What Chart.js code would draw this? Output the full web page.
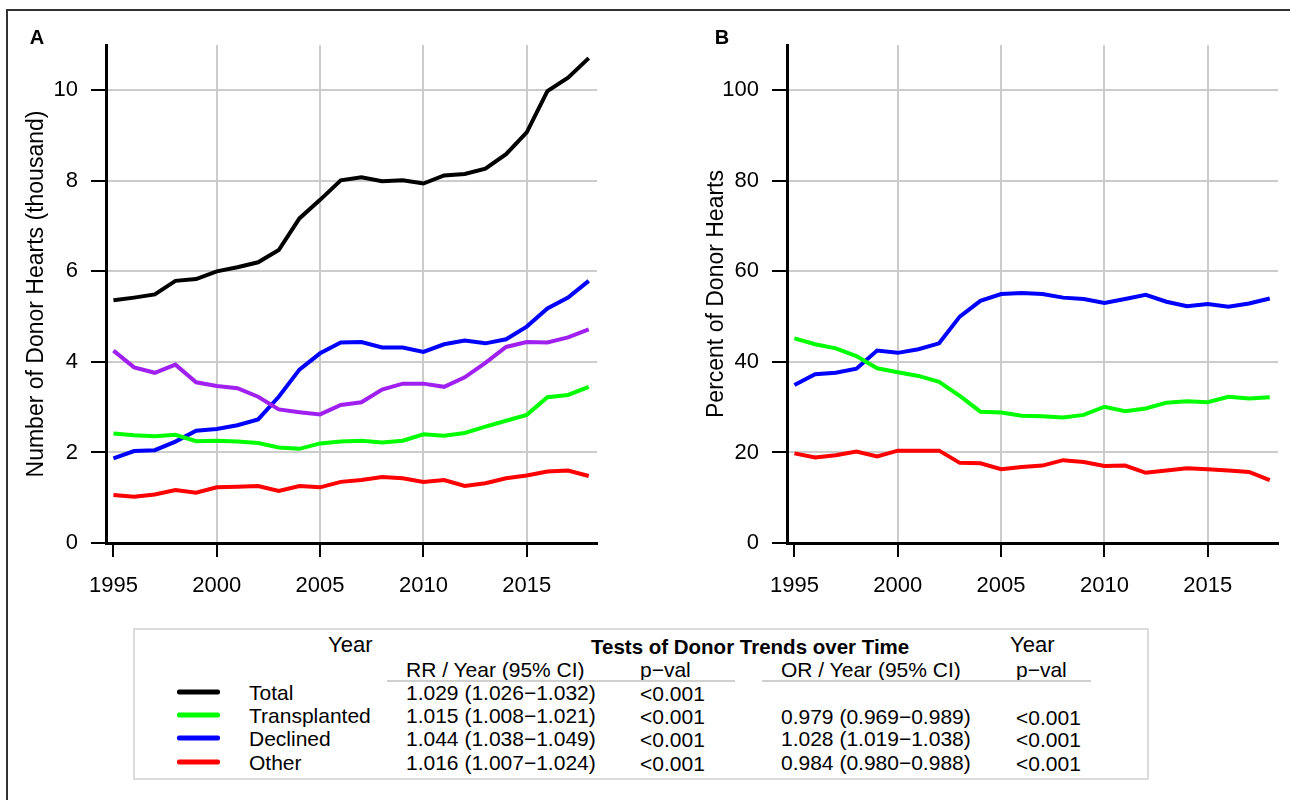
<!DOCTYPE html>
<html>
<head>
<meta charset="utf-8">
<script src="https://cdn.jsdelivr.net/npm/chart.js@4.4.1/dist/chart.umd.min.js"></script>
<style>
body { margin: 0; background: #fff; font-family: "Liberation Sans", Arial, Helvetica, sans-serif; }
#page { position: relative; width: 1290px; height: 800px; overflow: hidden; }
#frame { position: absolute; left: 6px; top: 9px; width: 1400px; height: 900px; border-top: 2px solid #333; border-left: 2px solid #333; }
.chartbox { position: absolute; top: 0; height: 620px; }
#boxA { left: 0; width: 640px; }
#boxB { left: 680px; width: 610px; }
#tbl { position: absolute; left: 133px; top: 628px; width: 1012px; height: 148px; border: 2px solid #dcdcdc; }
.t { position: absolute; white-space: nowrap; font-size: 21px; color: #000; line-height: 1; transform: translateY(-50%); }
.hline { position: absolute; height: 2px; background: #d0d0d0; }
.key { position: absolute; width: 43px; height: 5px; border-radius: 2px; transform: translateY(-50%); }
</style>
</head>
<body>
<div id="page">
  <div id="frame"></div>
  <div class="chartbox" id="boxA"><canvas id="chartA"></canvas></div>
  <div class="chartbox" id="boxB"><canvas id="chartB"></canvas></div>

  <div id="tbl"></div>
  <div class="t" style="left:328px;top:645px;font-size:22px">Year</div>
  <div class="t" style="left:591px;top:647px;font-size:20.5px;font-weight:bold">Tests of Donor Trends over Time</div>
  <div class="t" style="left:1010px;top:645px;font-size:22px">Year</div>
  <div class="t" style="left:406px;top:669px">RR / Year (95% CI)</div>
  <div class="t" style="left:640px;top:669px">p−val</div>
  <div class="t" style="left:781px;top:669px">OR / Year (95% CI)</div>
  <div class="t" style="left:1016px;top:669px">p−val</div>
  <div class="hline" style="left:387px;top:680px;width:348px"></div>
  <div class="hline" style="left:762px;top:680px;width:329px"></div>
  <div id="rows"></div>
</div>

<script>
// years shown on both panels
const years = [1995, 1996, 1997, 1998, 1999, 2000, 2001, 2002, 2003, 2004, 2005, 2006,
               2007, 2008, 2009, 2010, 2011, 2012, 2013, 2014, 2015, 2016, 2017, 2018];
const xTicks = [1995, 2000, 2005, 2010, 2015];

// panel A: number of donor hearts (thousand)
const totalA = [5.36, 5.42, 5.49, 5.79, 5.83, 6.00, 6.09, 6.20, 6.47, 7.17, 7.58, 8.01,
                8.08, 7.99, 8.01, 7.94, 8.12, 8.15, 8.27, 8.59, 9.07, 9.98, 10.28, 10.71];
const otherUnusedA = [4.25, 3.88, 3.76, 3.94, 3.55, 3.47, 3.42, 3.23, 2.95, 2.89, 2.84, 3.05,
                      3.11, 3.39, 3.52, 3.52, 3.45, 3.66, 3.98, 4.33, 4.44, 4.43, 4.54, 4.72];
const transplantedA = [2.42, 2.38, 2.36, 2.39, 2.25, 2.26, 2.24, 2.21, 2.11, 2.08, 2.20, 2.24,
                       2.26, 2.22, 2.26, 2.40, 2.37, 2.43, 2.57, 2.70, 2.83, 3.22, 3.27, 3.45];
const declinedA = [1.87, 2.03, 2.05, 2.24, 2.48, 2.52, 2.60, 2.73, 3.23, 3.83, 4.19, 4.43,
                   4.44, 4.32, 4.32, 4.22, 4.39, 4.47, 4.41, 4.50, 4.78, 5.18, 5.42, 5.79];
const otherA = [1.06, 1.02, 1.07, 1.17, 1.11, 1.23, 1.24, 1.26, 1.15, 1.26, 1.23, 1.35,
                1.39, 1.46, 1.43, 1.35, 1.39, 1.26, 1.32, 1.43, 1.49, 1.58, 1.60, 1.48];
const yTicksA = [0, 2, 4, 6, 8, 10];

// panel B: percent of donor hearts
const transplantedB = [45.2, 43.9, 43.0, 41.3, 38.6, 37.7, 36.9, 35.6, 32.5, 29.0, 28.8, 28.1,
                       28.0, 27.7, 28.3, 30.1, 29.1, 29.7, 31.0, 31.3, 31.1, 32.3, 31.9, 32.2];
const declinedB = [34.9, 37.3, 37.6, 38.5, 42.5, 42.0, 42.8, 44.1, 50.0, 53.5, 55.0, 55.2,
                   55.0, 54.2, 53.9, 53.0, 53.9, 54.8, 53.3, 52.3, 52.8, 52.2, 52.9, 54.0];
const otherB = [19.8, 18.9, 19.4, 20.2, 19.1, 20.4, 20.4, 20.4, 17.7, 17.6, 16.3, 16.8,
                17.1, 18.3, 17.9, 17.0, 17.1, 15.5, 16.0, 16.5, 16.3, 16.0, 15.7, 13.9];
const yTicksB = [0, 20, 40, 60, 80, 100];

// table below the charts
const groupNames = ['Total', 'Transplanted', 'Declined', 'Other'];
const groupColors = ['#000000', '#00ff00', '#0000ff', '#ff0000'];
const rrText = ['1.029 (1.026−1.032)', '1.015 (1.008−1.021)', '1.044 (1.038−1.049)', '1.016 (1.007−1.024)'];
const rrP = ['<0.001', '<0.001', '<0.001', '<0.001'];
const orText = ['', '0.979 (0.969−0.989)', '1.028 (1.019−1.038)', '0.984 (0.980−0.988)'];
const orP = ['', '<0.001', '<0.001', '<0.001'];

const FONT = '"Liberation Sans", Arial, Helvetica, sans-serif';

function toPoints(values) {
    return years.map((yr, i) => ({ x: yr, y: values[i] }));
}

function line(values, color) {
    return {
        data: toPoints(values),
        borderColor: color,
        borderWidth: 4,
        pointRadius: 0,
        tension: 0,
        fill: false
    };
}

const panelLabel = {
    id: 'panelLabel',
    afterDraw(chart, args, opts) {
        const ctx = chart.ctx;
        ctx.save();
        ctx.font = 'bold 20px ' + FONT;
        ctx.fillStyle = '#000';
        ctx.textAlign = 'center';
        ctx.textBaseline = 'middle';
        ctx.fillText(opts.text, opts.x, opts.y);
        ctx.restore();
    }
};

function makeChart(id, datasets, yMax, yTicks, yTitle, yWidth, padRight, label, labelX) {
    return new Chart(document.getElementById(id), {
        type: 'line',
        data: { datasets: datasets },
        plugins: [panelLabel],
        options: {
            responsive: true,
            maintainAspectRatio: false,
            animation: false,
            layout: { padding: { left: 12, top: 45, right: padRight, bottom: 17 } },
            plugins: {
                legend: { display: false },
                tooltip: { enabled: false },
                panelLabel: { text: label, x: labelX, y: 38 }
            },
            scales: {
                x: {
                    type: 'linear',
                    min: 1994.64,
                    max: 2018.4,
                    afterBuildTicks: s => { s.ticks = xTicks.map(v => ({ value: v })); },
                    afterFit: s => { s.height = 60; },
                    grid: {
                        color: c => c.tick && c.tick.value === 1995 ? 'rgba(0,0,0,0)' : '#cccccc',
                        lineWidth: 2,
                        tickColor: '#000',
                        tickLength: 14,
                        tickWidth: 2
                    },
                    border: { color: '#000', width: 3 },
                    ticks: {
                        color: '#000',
                        font: { family: FONT, size: 22 },
                        padding: 16,
                        maxRotation: 0,
                        callback: v => String(v)
                    }
                },
                y: {
                    min: 0,
                    max: yMax,
                    afterBuildTicks: s => { s.ticks = yTicks.map(v => ({ value: v })); },
                    afterFit: s => { s.width = yWidth; },
                    grid: {
                        color: c => c.tick && c.tick.value === 0 ? 'rgba(0,0,0,0)' : '#cccccc',
                        lineWidth: 2,
                        tickColor: '#000',
                        tickLength: 15,
                        tickWidth: 2
                    },
                    border: { color: '#000', width: 3 },
                    ticks: {
                        color: '#000',
                        font: { family: FONT, size: 22 },
                        padding: 13
                    },
                    title: {
                        display: true,
                        text: yTitle,
                        color: '#000',
                        font: { family: FONT, size: 23 },
                        padding: { top: 11, bottom: 0 }
                    }
                }
            }
        }
    });
}

makeChart('chartA', [
    line(totalA, '#000000'),
    line(otherUnusedA, '#a020f0'),
    line(transplantedA, '#00ff00'),
    line(declinedA, '#0000ff'),
    line(otherA, '#ff0000')
], 11, yTicksA, 'Number of Donor Hearts (thousand)', 94, 43, 'A', 37);

makeChart('chartB', [
    line(transplantedB, '#00ff00'),
    line(declinedB, '#0000ff'),
    line(otherB, '#ff0000')
], 110, yTicksB, 'Percent of Donor Hearts', 95, 12, 'B', 42);

// table rows
const rowsEl = document.getElementById('rows');
const rowY = [692, 715, 738, 762];
const orY = [692, 716, 738, 762];
groupNames.forEach((name, i) => {
    const y = rowY[i];
    rowsEl.insertAdjacentHTML('beforeend',
        `<div class="key" style="left:177px;top:${y}px;background:${groupColors[i]}"></div>` +
        `<div class="t" style="left:249px;top:${y}px">${name}</div>` +
        `<div class="t" style="left:406px;top:${y}px">${rrText[i]}</div>` +
        `<div class="t" style="left:640px;top:${y + 1}px">${rrP[i].replace('<', '&lt;')}</div>` +
        `<div class="t" style="left:781px;top:${orY[i]}px">${orText[i]}</div>` +
        `<div class="t" style="left:1016px;top:${orY[i] + 1}px">${orP[i].replace('<', '&lt;')}</div>`);
});
</script>
</body>
</html>
